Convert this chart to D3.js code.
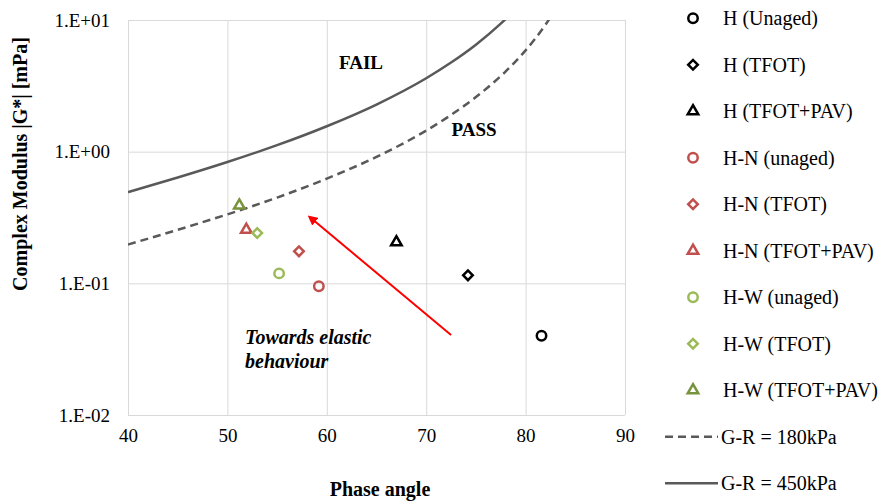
<!DOCTYPE html>
<html>
<head>
<meta charset="utf-8">
<script src="https://cdn.jsdelivr.net/npm/d3@7"></script>
<style>
  body { margin: 0; background: #fff; }
  svg { display: block; font-family: "Liberation Serif", "Times New Roman", serif; }
</style>
</head>
<body>
<div id="chart"></div>
<script>
// DATA
const seriesNames = ['H (Unaged)', 'H (TFOT)', 'H (TFOT+PAV)',
  'H-N (unaged)', 'H-N (TFOT)', 'H-N (TFOT+PAV)',
  'H-W (unaged)', 'H-W (TFOT)', 'H-W (TFOT+PAV)'];
const phaseAngles = [81.6, 74.2, 67.0, 59.2, 57.2, 51.9, 55.2, 53.0, 51.2];
const complexModulus = [0.040, 0.115, 0.205, 0.095, 0.175, 0.255, 0.119, 0.241, 0.39];
const seriesShapes = ['circle', 'diamond', 'triangle', 'circle', 'diamond', 'triangle', 'circle', 'diamond', 'triangle'];
const seriesColors = ['#000000', '#000000', '#000000', '#c0504d', '#c0504d', '#c0504d', '#9bbb59', '#9bbb59', '#77933c'];

// G-R limit curves
const curveAngles = [40, 45, 50, 55, 60, 65, 70, 72.5, 75, 77.5, 78, 80, 81, 82, 82.5];
const gr180 = [0.197, 0.255, 0.334, 0.448, 0.624, 0.913, 1.446, 1.90, 2.60, 3.75, 4.07, 5.88, 7.27, 9.20, 10.5];
const gr450 = [0.493, 0.636, 0.834, 1.12, 1.56, 2.28, 3.61, 4.75, 6.49, 9.38, 10.18, 14.7, 18.2, 23.0, 26.2];

const xTicks = [40, 50, 60, 70, 80, 90];
const yTicks = [0.01, 0.1, 1, 10];
const yTickLabels = ['1.E-02', '1.E-01', '1.E+00', '1.E+01'];

// LAYOUT
const width = 881, height = 502;
const plot = { left: 128, right: 625, top: 20, bottom: 415 };

const svg = d3.select('#chart').append('svg')
  .attr('width', width)
  .attr('height', height);

const x = d3.scaleLinear().domain([40, 90]).range([plot.left, plot.right]);
const y = d3.scaleLog().domain([0.01, 10]).range([plot.bottom, plot.top]);

// GRID
const grid = svg.append('g').attr('stroke', '#d9d9d9').attr('stroke-width', 1);
grid.selectAll('.vx').data(xTicks).enter().append('line')
  .attr('x1', d => x(d) + 0.5).attr('x2', d => x(d) + 0.5)
  .attr('y1', plot.top).attr('y2', plot.bottom);
grid.selectAll('.hy').data(yTicks).enter().append('line')
  .attr('x1', plot.left).attr('x2', plot.right)
  .attr('y1', d => y(d) + 0.5).attr('y2', d => y(d) + 0.5);

// AXES
const xAxis = svg.append('g')
  .attr('transform', `translate(0, ${plot.bottom})`)
  .call(d3.axisBottom(x).tickValues(xTicks).tickSize(0).tickPadding(14));
xAxis.select('.domain').remove();
xAxis.selectAll('text').attr('font-size', 19).attr('fill', '#000')
  .attr('font-family', '"Liberation Serif", serif');

const yAxis = svg.append('g')
  .attr('transform', `translate(${plot.left}, 0)`)
  .call(d3.axisLeft(y).tickValues(yTicks).tickSize(0).tickPadding(18)
    .tickFormat((d, i) => yTickLabels[i]));
yAxis.select('.domain').remove();
yAxis.selectAll('text').attr('font-size', 19).attr('fill', '#000')
  .attr('font-family', '"Liberation Serif", serif');

svg.append('text')
  .attr('x', 380)
  .attr('y', 496)
  .attr('text-anchor', 'middle')
  .attr('font-size', 20).attr('font-weight', 'bold')
  .text('Phase angle');

svg.append('text')
  .attr('transform', `translate(27, 164) rotate(-90)`)
  .attr('text-anchor', 'middle')
  .attr('font-size', 20).attr('font-weight', 'bold')
  .text('Complex Modulus |G*| [mPa]');

// CURVES
svg.append('clipPath').attr('id', 'clip')
  .append('rect')
  .attr('x', plot.left).attr('y', plot.top)
  .attr('width', plot.right - plot.left).attr('height', plot.bottom - plot.top);

const line = d3.line()
  .x(d => x(d[0]))
  .y(d => y(d[1]))
  .curve(d3.curveMonotoneX);

svg.append('path')
  .datum(curveAngles.map((a, i) => [a, gr180[i]]))
  .attr('clip-path', 'url(#clip)')
  .attr('d', line)
  .attr('fill', 'none')
  .attr('stroke', '#595959')
  .attr('stroke-width', 2.5)
  .attr('stroke-dasharray', '8,5');

svg.append('path')
  .datum(curveAngles.map((a, i) => [a, gr450[i]]))
  .attr('clip-path', 'url(#clip)')
  .attr('d', line)
  .attr('fill', 'none')
  .attr('stroke', '#595959')
  .attr('stroke-width', 2.5);

// MARKERS
const symbolFor = s => {
  if (s === 'circle') return d3.symbol().type(d3.symbolCircle).size(70)();
  if (s === 'diamond') return d3.symbol().type(d3.symbolSquare).size(46)();
  return d3.symbol().type(d3.symbolTriangle).size(48)();
};
const rot = s => s === 'diamond' ? ' rotate(45)' : '';

svg.selectAll('.pt')
  .data(seriesNames)
  .enter()
  .append('path')
    .attr('class', 'pt')
    .attr('d', (d, i) => symbolFor(seriesShapes[i]))
    .attr('transform', (d, i) => `translate(${x(phaseAngles[i])}, ${y(complexModulus[i])})${rot(seriesShapes[i])}`)
    .attr('fill', 'none')
    .attr('stroke', (d, i) => seriesColors[i])
    .attr('stroke-width', 2.5);

// ANNOTATIONS
svg.append('defs').append('marker')
  .attr('id', 'arrow')
  .attr('viewBox', '0 0 10 10')
  .attr('refX', 2).attr('refY', 5)
  .attr('markerWidth', 5).attr('markerHeight', 5)
  .attr('orient', 'auto')
  .append('path')
    .attr('d', 'M0,0 L10,5 L0,10 z')
    .attr('fill', '#ff0000');

svg.append('line')
  .attr('x1', x(72.5)).attr('y1', y(0.0405))
  .attr('x2', x(58.7)).attr('y2', y(0.30))
  .attr('stroke', '#ff0000')
  .attr('stroke-width', 2)
  .attr('marker-end', 'url(#arrow)');

svg.append('text')
  .attr('x', 361).attr('y', 69)
  .attr('text-anchor', 'middle')
  .attr('font-size', 19).attr('font-weight', 'bold')
  .text('FAIL');

svg.append('text')
  .attr('x', 474).attr('y', 136)
  .attr('text-anchor', 'middle')
  .attr('font-size', 19).attr('font-weight', 'bold')
  .text('PASS');

const note = svg.append('text')
  .attr('font-size', 20).attr('font-weight', 'bold').attr('font-style', 'italic');
note.append('tspan').attr('x', 245).attr('y', 344).text('Towards elastic');
note.append('tspan').attr('x', 245).attr('y', 368).text('behaviour');

// LEGEND
const legendY0 = 18.3, legendStep = 46.5;
const legend = svg.append('g');
seriesNames.forEach((name, i) => {
  const ly = legendY0 + i * legendStep;
  legend.append('path')
    .attr('d', symbolFor(seriesShapes[i]))
    .attr('transform', `translate(693, ${ly})${rot(seriesShapes[i])}`)
    .attr('fill', 'none')
    .attr('stroke', seriesColors[i])
    .attr('stroke-width', 2.5);
  legend.append('text')
    .attr('x', 723).attr('y', ly).attr('dy', '0.35em')
    .attr('font-size', 20)
    .text(name);
});

const lineLegend = [['G-R = 180kPa', '8,5'], ['G-R = 450kPa', null]];
lineLegend.forEach((l, j) => {
  const ly = legendY0 + (seriesNames.length + j) * legendStep;
  legend.append('line')
    .attr('x1', 665).attr('x2', 718)
    .attr('y1', ly).attr('y2', ly)
    .attr('stroke', '#595959').attr('stroke-width', 2.5)
    .attr('stroke-dasharray', l[1]);
  legend.append('text')
    .attr('x', 721).attr('y', ly).attr('dy', '0.35em')
    .attr('font-size', 20)
    .text(l[0]);
});
</script>
</body>
</html>
